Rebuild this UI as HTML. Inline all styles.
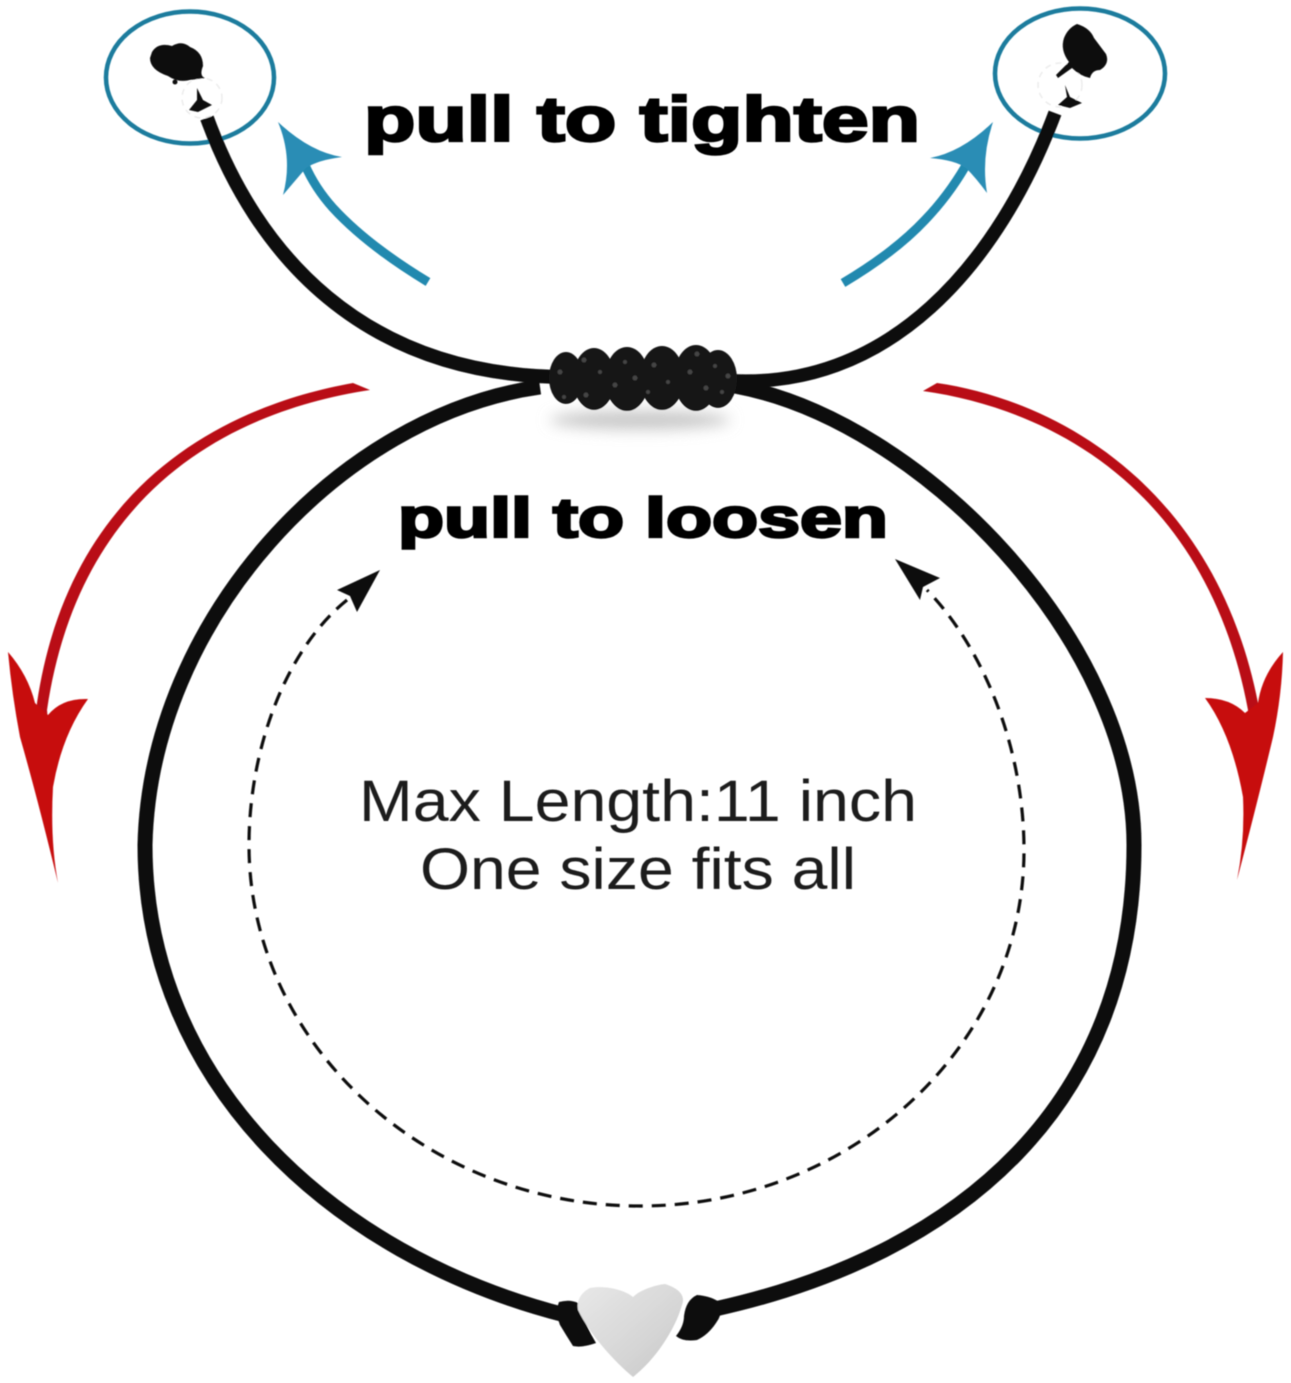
<!DOCTYPE html>
<html>
<head>
<meta charset="utf-8">
<style>
html,body{margin:0;padding:0;background:#fff;}
svg{display:block;}
</style>
</head>
<body>
<svg width="1291" height="1383" viewBox="0 0 1291 1383" xmlns="http://www.w3.org/2000/svg">
<defs>
<linearGradient id="h" x1="0" y1="0" x2="1" y2="1">
<stop offset="0" stop-color="#e8e8e8"/><stop offset="0.6" stop-color="#d6d6d6"/><stop offset="1" stop-color="#c6c6c6"/>
</linearGradient>
<filter id="soft" x="-5%" y="-5%" width="110%" height="110%"><feGaussianBlur stdDeviation="0.6"/></filter>
<filter id="sh" x="-30%" y="-100%" width="160%" height="300%"><feGaussianBlur stdDeviation="7"/></filter>
</defs>
<rect width="1291" height="1383" fill="#fff"/>

<g filter="url(#soft)">
<!-- knot shadow -->
<ellipse cx="640" cy="420" rx="90" ry="10" fill="#cacaca" filter="url(#sh)"/>

<!-- blue circles -->
<ellipse cx="190" cy="77.5" rx="84" ry="66" fill="none" stroke="#1a7c9d" stroke-width="4.5"/>
<ellipse cx="1080" cy="73.5" rx="85" ry="65" fill="none" stroke="#1a7c9d" stroke-width="4.5"/>

<!-- faint beads -->
<circle cx="202" cy="98" r="20" fill="none" stroke="#ececec" stroke-width="1.5" stroke-dasharray="6 5"/>
<circle cx="1060" cy="85" r="22" fill="none" stroke="#ececec" stroke-width="1.5" stroke-dasharray="6 5"/>

<!-- top cords -->
<path d="M207 118 C255 250 360 378 570 377" fill="none" stroke="#0c0c0c" stroke-width="14"/>
<path d="M1055 113 C1000 260 890 395 720 380" fill="none" stroke="#111" stroke-width="13.5"/>

<!-- main loop -->
<path d="M540 387 C340 415 150 620 145 845 C145 1080 330 1255 565 1315" fill="none" stroke="#0c0c0c" stroke-width="15"/>
<path d="M735 386 C920 420 1134 640 1134 845 C1134 1105 960 1255 715 1309" fill="none" stroke="#0c0c0c" stroke-width="15"/>

<!-- knot -->
<g fill="#181818">
<ellipse cx="566" cy="378" rx="17" ry="26"/>
<ellipse cx="594" cy="379" rx="21" ry="31"/>
<ellipse cx="627" cy="379" rx="22" ry="32"/>
<ellipse cx="662" cy="378" rx="22" ry="32"/>
<ellipse cx="696" cy="378" rx="22" ry="33"/>
<ellipse cx="718" cy="379" rx="19" ry="29"/>
</g>
<g fill="#444">
<circle cx="560" cy="372" r="2.5"/><circle cx="564" cy="397" r="2"/><circle cx="584" cy="360" r="2.5"/><circle cx="586" cy="395" r="2.5"/>
<circle cx="600" cy="372" r="2"/><circle cx="615" cy="385" r="2.5"/><circle cx="625" cy="362" r="2"/><circle cx="635" cy="378" r="2.5"/>
<circle cx="648" cy="392" r="2"/><circle cx="654" cy="365" r="2.5"/><circle cx="668" cy="382" r="2"/><circle cx="690" cy="372" r="2.5"/>
<circle cx="697" cy="354" r="2.5"/><circle cx="706" cy="388" r="2.5"/><circle cx="715" cy="366" r="2"/><circle cx="728" cy="376" r="2.5"/><circle cx="722" cy="392" r="2"/>
</g>

<!-- ends -->
<g fill="#0c0c0c">
<path d="M152 52 Q158 42 172 46 Q182 40 190 47 Q203 52 203 66 Q199 76 205 78 L190 80 Q178 83 168 76 Q150 70 150 58Z"/>
<circle cx="175" cy="82" r="2.5"/>
<path d="M197 88 L203 100 L212 105 L198 112 L189 110 L197 100Z"/>
<path d="M1077 24 Q1090 28 1094 38 Q1100 46 1106 54 Q1110 64 1100 70 Q1092 70 1090 78 Q1080 76 1072 68 L1058 78 L1056 75 L1069 62 Q1060 50 1064 38 Q1068 28 1077 24Z"/>
<path d="M1065 85 L1070 97 L1082 103 L1070 108 L1058 105 L1067 97Z"/>
</g>

<!-- blue arrows -->
<path d="M428 282 Q367 245 333 208 Q315 188 305 165" fill="none" stroke="#2189af" stroke-width="9"/>
<path d="M278 122 Q310 152 342 157 Q318 160 306 168 Q294 182 283 195 Q293 158 278 122Z" fill="#2b8db5"/>
<path d="M843 283 Q895 252 925 220 Q948 196 965 167" fill="none" stroke="#2189af" stroke-width="9"/>
<path d="M993 122 Q962 152 930 158 Q955 160 966 168 Q976 178 987 193 Q981 158 993 122Z" fill="#2b8db5"/>

<!-- red arrows -->
<path d="M370 390 L353 383 C230 405 70 480 37 703 L36 722 L48 722 L47 710 C80 485 238 410 370 390Z" fill="#b90f14"/>
<path d="M8 652 Q28 675 35 703 L48 715 Q62 698 88 699 Q62 735 53 787 Q50 840 58 883 Q38 800 20 737 Q12 695 8 652Z" fill="#c70b10"/>
<path d="M923 391 L937 383 C1055 400 1215 485 1258 703 L1259 722 L1247 722 L1248 710 C1208 495 1058 410 923 391Z" fill="#b90f14"/>
<path d="M1283 652 Q1262 675 1258 703 L1245 713 Q1230 698 1205 698 Q1232 735 1243 797 Q1245 840 1237 880 Q1258 800 1273 737 Q1282 695 1283 652Z" fill="#c70b10"/>

<!-- dashed loop -->
<path d="M347 600 C285 650 249 750 249 845 C249 1043 425 1206 640 1206 C851 1206 1024 1046 1024 850 C1024 750 985 650 927 590" fill="none" stroke="#111" stroke-width="3.2" stroke-dasharray="14 9"/>
<path d="M380 570 L337 590 L350 596 L357 612Z" fill="#111"/>
<path d="M895 559 L940 578 L923 587 L920 600Z" fill="#111"/>

<!-- heart knots -->
<g fill="#0c0c0c">
<path d="M559 1302 Q570 1299 578 1303 Q585 1325 596 1343 Q582 1348 573 1346 Q566 1335 560 1325 Q555 1312 559 1302Z"/>
<path d="M697 1295 Q712 1296 722 1304 Q722 1315 716 1323 Q708 1335 697 1340 Q683 1342 676 1336 Q684 1326 684 1316 Q686 1300 697 1295Z"/>
</g>
<!-- heart -->
<path d="M590 1288 C605 1285 625 1290 633 1297 C640 1290 655 1285 665 1284 C678 1288 686 1295 682 1305 C675 1330 655 1360 633 1377 C615 1362 590 1335 578 1310 C576 1300 582 1292 590 1288Z" fill="url(#h)"/>

<!-- text -->
<text x="642" y="141" text-anchor="middle" font-family="'Liberation Sans',sans-serif" font-weight="700" font-size="63" textLength="556" lengthAdjust="spacingAndGlyphs" stroke="#000" stroke-width="2.5" fill="#000">pull to tighten</text>
<text x="643" y="537" text-anchor="middle" font-family="'Liberation Sans',sans-serif" font-weight="700" font-size="56" textLength="490" lengthAdjust="spacingAndGlyphs" stroke="#000" stroke-width="2.5" fill="#000">pull to loosen</text>
<text x="638" y="821" text-anchor="middle" font-family="'Liberation Sans',sans-serif" font-size="58" textLength="558" lengthAdjust="spacingAndGlyphs" fill="#1c1c1c">Max Length:11 inch</text>
<text x="638" y="889" text-anchor="middle" font-family="'Liberation Sans',sans-serif" font-size="58" textLength="436" lengthAdjust="spacingAndGlyphs" fill="#1c1c1c">One size fits all</text>
</g>
</svg>
</body>
</html>
